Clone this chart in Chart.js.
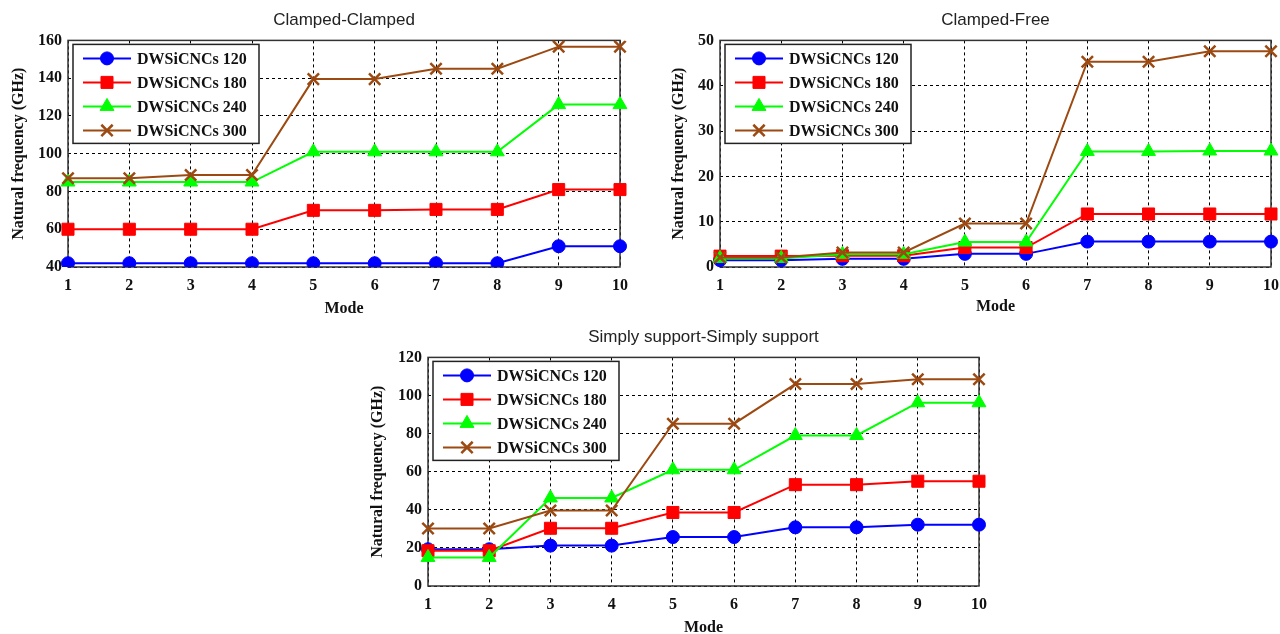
<!DOCTYPE html>
<html>
<head>
<meta charset="utf-8">
<script src="https://cdn.jsdelivr.net/npm/chart.js@4.4.1/dist/chart.umd.min.js"></script>
<style>
  html, body { margin: 0; padding: 0; background: #fff; overflow: hidden; width: 1280px; height: 634px; }
  canvas { position: absolute; }
</style>
</head>
<body>
<canvas id="cc" width="640" height="318" style="left:0;top:0"></canvas>
<canvas id="cf" width="670" height="318" style="left:640px;top:0"></canvas>
<canvas id="ss" width="640" height="323" style="left:360px;top:317px"></canvas>
<script>
const modes = ['1', '2', '3', '4', '5', '6', '7', '8', '9', '10'];
const seriesNames = ['DWSiCNCs 120', 'DWSiCNCs 180', 'DWSiCNCs 240', 'DWSiCNCs 300'];

// Clamped-Clamped
const cc120 = [42, 42, 42, 42, 42, 42, 42, 42, 51, 51];
const cc180 = [60, 60, 60, 60, 70, 70, 70.5, 70.5, 81, 81];
const cc240 = [85, 85, 85, 85, 101, 101, 101, 101, 126, 126];
const cc300 = [87, 87, 88.7, 88.7, 139.5, 139.5, 145, 145, 156.7, 156.7];
const ccTicks = [40, 60, 80, 100, 120, 140, 160];

// Clamped-Free
const cf120 = [1.5, 1.5, 1.8, 1.8, 2.9, 2.9, 5.6, 5.6, 5.6, 5.6];
const cf180 = [2.4, 2.4, 2.5, 2.5, 4.3, 4.3, 11.7, 11.7, 11.7, 11.7];
const cf240 = [1.9, 1.9, 2.8, 2.8, 5.5, 5.5, 25.5, 25.5, 25.6, 25.6];
const cf300 = [2.1, 2.1, 3.2, 3.2, 9.6, 9.6, 45.3, 45.3, 47.6, 47.6];
const cfTicks = [0, 10, 20, 30, 40, 50];

// Simply support-Simply support
const ss120 = [19.3, 19.3, 21.2, 21.2, 25.7, 25.7, 30.8, 30.8, 32.2, 32.2];
const ss180 = [18.5, 18.5, 30.3, 30.3, 38.6, 38.6, 53.2, 53.2, 55, 55];
const ss240 = [15, 15, 46.2, 46.2, 61, 61, 79, 79, 96.2, 96.2];
const ss300 = [30.2, 30.2, 39.6, 39.6, 85.2, 85.2, 106, 106, 108.5, 108.5];
const ssTicks = [0, 20, 40, 60, 80, 100, 120];

const colors = ['#0000ff', '#ff0000', '#00ff00', '#9c4a12'];
const markers = ['circle', 'rect', 'triangle', 'crossRot'];
const radii = [6.5, 8.5, 8, 8];

const serif = '"Liberation Serif", "Times New Roman", serif';
const sans = '"Liberation Sans", Arial, sans-serif';

function makeDatasets(arrs) {
  return arrs.map((d, i) => ({
    label: seriesNames[i],
    data: d,
    borderColor: colors[i],
    backgroundColor: colors[i],
    pointBackgroundColor: colors[i],
    pointBorderColor: colors[i],
    pointStyle: markers[i],
    pointRadius: radii[i],
    pointBorderWidth: markers[i] === 'crossRot' ? 2.5 : 1,
    borderWidth: 2,
    tension: 0,
    order: 4 - i
  }));
}

// frame around the plot
const frame = {
  id: 'frame',
  beforeDatasetsDraw(chart) {
    const { ctx, chartArea: a } = chart;
    ctx.save();
    ctx.strokeStyle = '#333';
    ctx.lineWidth = 1.5;
    ctx.strokeRect(a.left, a.top, a.right - a.left, a.bottom - a.top);
    ctx.restore();
  }
};

// legend box inside the plot, top left
const boxLegend = {
  id: 'boxLegend',
  afterDatasetsDraw(chart) {
    const { ctx, chartArea: a } = chart;
    const x0 = a.left + 5, y0 = a.top + 4;
    ctx.save();
    ctx.fillStyle = '#fff';
    ctx.fillRect(x0, y0, 186, 99);
    ctx.strokeStyle = '#222';
    ctx.lineWidth = 1.5;
    ctx.strokeRect(x0, y0, 186, 99);
    chart.data.datasets.forEach((ds, i) => {
      const y = y0 + 14 + i * 24;
      ctx.strokeStyle = ds.borderColor;
      ctx.lineWidth = 2;
      ctx.beginPath();
      ctx.moveTo(x0 + 10, y);
      ctx.lineTo(x0 + 58, y);
      ctx.stroke();
      ctx.fillStyle = ds.pointBackgroundColor;
      ctx.lineWidth = ds.pointBorderWidth;
      Chart.helpers.drawPoint(ctx, { pointStyle: ds.pointStyle, radius: ds.pointRadius, rotation: 0, borderWidth: ds.pointBorderWidth }, x0 + 34, y);
      ctx.fillStyle = '#111';
      ctx.font = 'bold 16px ' + serif;
      ctx.textBaseline = 'middle';
      ctx.textAlign = 'left';
      ctx.fillText(ds.label, x0 + 64, y + 1);
    });
    ctx.restore();
  }
};

function makeChart(id, title, arrs, ticks, opts) {
  new Chart(document.getElementById(id), {
    type: 'line',
    data: { labels: modes, datasets: makeDatasets(arrs) },
    plugins: [frame, boxLegend],
    options: {
      responsive: false,
      animation: false,
      layout: { padding: { left: 0, right: opts.padRight, top: 0, bottom: 0 } },
      plugins: {
        legend: { display: false },
        tooltip: { enabled: false },
        title: {
          display: true,
          text: title,
          fullSize: false,
          color: '#222',
          font: { family: sans, size: 17, weight: 'normal', lineHeight: 1.2 },
          padding: { top: 10, bottom: 10 }
        }
      },
      scales: {
        x: {
          type: 'category',
          offset: false,
          afterFit: (s) => { s.height = opts.xHeight; },
          grid: { color: '#000', lineWidth: 1, drawTicks: false },
          border: { display: false, dash: [3, 3] },
          ticks: { color: '#111', maxRotation: 0, autoSkip: false, padding: 9, font: { family: serif, size: 16, weight: 'bold' } },
          title: { display: true, text: 'Mode', color: '#111', font: { family: serif, size: 16, weight: 'bold' }, padding: { top: 0, bottom: opts.modePad } }
        },
        y: {
          min: ticks[0],
          max: ticks[ticks.length - 1],
          afterFit: (s) => { s.width = opts.yWidth; },
          afterBuildTicks: (s) => { s.ticks = ticks.map(v => ({ value: v })); },
          grid: { color: '#000', lineWidth: 1, drawTicks: false },
          border: { display: false, dash: [3, 3] },
          ticks: { color: '#111', padding: 6, font: { family: serif, size: 16, weight: 'bold' } },
          title: { display: true, text: 'Natural frequency (GHz)', color: '#111', font: { family: serif, size: 16, weight: 'bold' }, padding: { top: opts.yTitlePad, bottom: 0 } }
        }
      }
    }
  });
}

makeChart('cc', 'Clamped-Clamped', [cc120, cc180, cc240, cc300], ccTicks,
  { padRight: 20, xHeight: 51, yWidth: 68, modePad: 0, yTitlePad: 8.8 });
makeChart('cf', 'Clamped-Free', [cf120, cf180, cf240, cf300], cfTicks,
  { padRight: 39, xHeight: 51, yWidth: 80, modePad: 1.5, yTitlePad: 29.4 });
makeChart('ss', 'Simply support-Simply support', [ss120, ss180, ss240, ss300], ssTicks,
  { padRight: 21, xHeight: 54, yWidth: 68, modePad: 3, yTitlePad: 8.4 });
</script>
</body>
</html>
